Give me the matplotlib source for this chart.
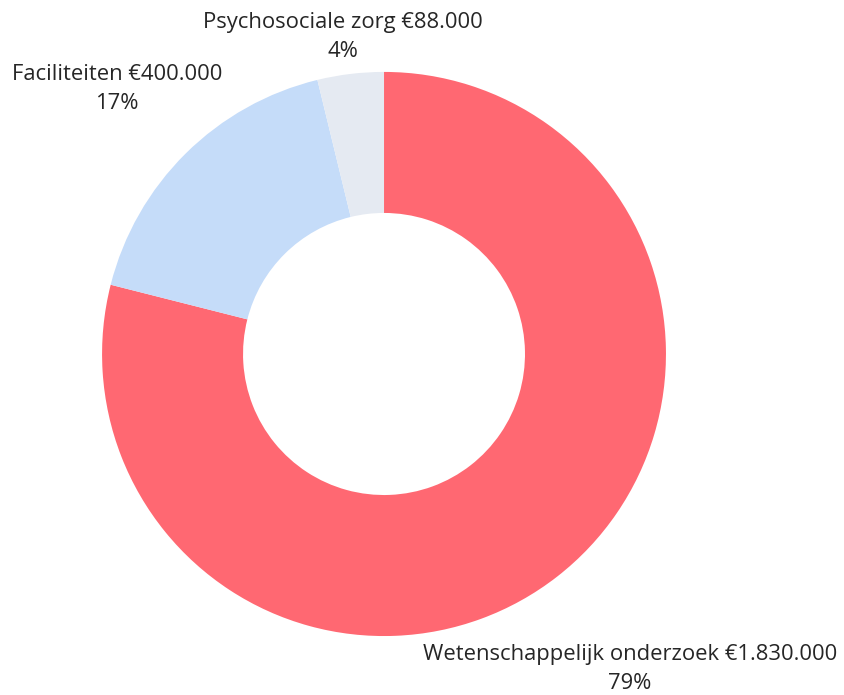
import matplotlib.pyplot as plt

categories = ["Wetenschappelijk onderzoek", "Faciliteiten", "Psychosociale zorg"]
amounts = [1830000, 400000, 88000]
amount_labels = ["€1.830.000", "€400.000", "€88.000"]
colors = ["#FF6872", "#C5DCF9", "#E5EAF2"]

# label centres in data units (radius 1 = outer ring)
label_pos = [(0.872, -1.118), (-0.947, 0.940), (-0.145, 1.125)]

plt.rcParams['font.family'] = ['Open Sans', 'DejaVu Sans']

fig = plt.figure(figsize=(8.45, 6.95), dpi=100)
ax = fig.add_axes([0, 0, 1, 1])

wedges, _ = ax.pie(amounts, colors=colors, startangle=90, counterclock=False,
                   radius=1.0, wedgeprops=dict(width=0.5, edgecolor='none'))

total = sum(amounts)
for cat, amt, lab, (x, y) in zip(categories, amounts, amount_labels, label_pos):
    pct = round(amt / total * 100)
    ax.text(x, y, f"{cat} {lab}\n{pct}%", ha='center', va='center',
            fontsize=15.8, color='#262626', linespacing=1.5)

ax.set_xlim(-1.362, 1.635)
ax.set_ylim(-1.209, 1.255)
ax.set_aspect('auto')
ax.axis('off')

plt.savefig("out.png", dpi=100)
